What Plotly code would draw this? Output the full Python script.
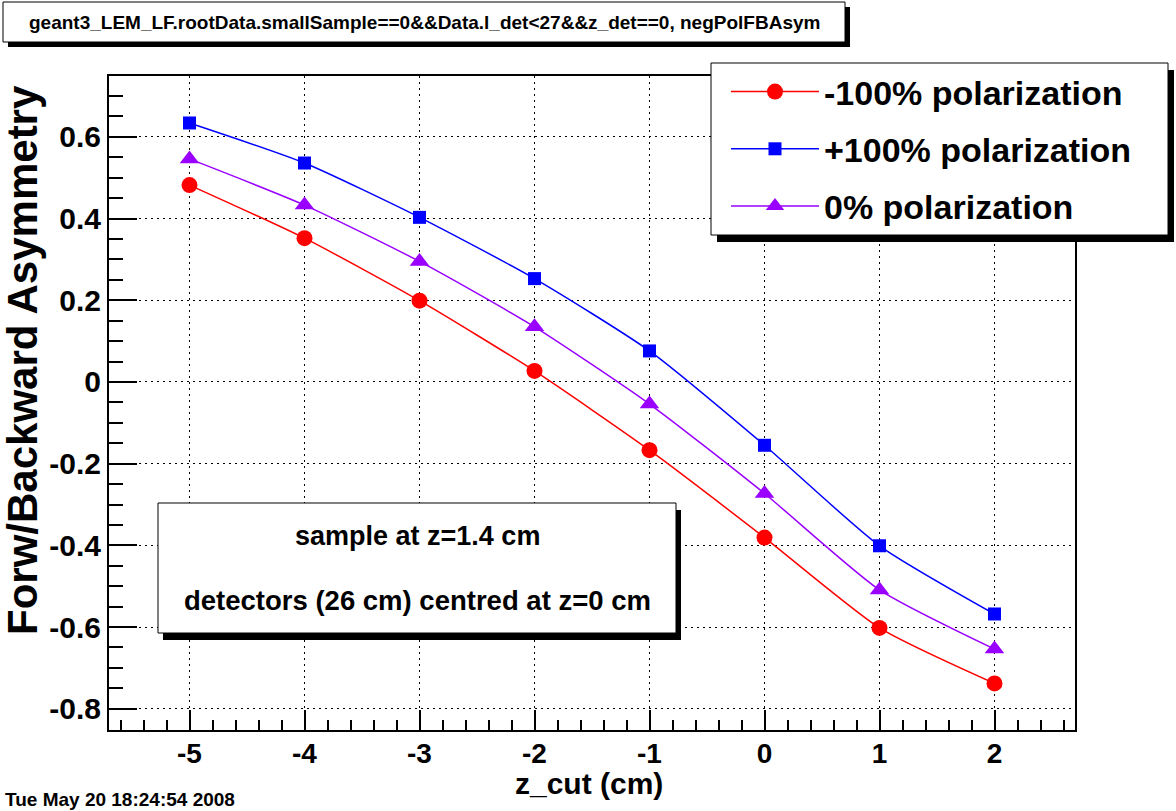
import plotly.graph_objects as go

# ---- data ----
z_cut = [-5, -4, -3, -2, -1, 0, 1, 2]
asym_neg100 = [0.482, 0.352, 0.199, 0.027, -0.167, -0.381, -0.602, -0.738]
asym_pos100 = [0.634, 0.536, 0.403, 0.253, 0.076, -0.155, -0.401, -0.568]
asym_zero = [0.546, 0.433, 0.295, 0.135, -0.054, -0.273, -0.509, -0.654]
series_names = ["-100% polarization", "+100% polarization", "0% polarization"]

x_tickvals = [-5, -4, -3, -2, -1, 0, 1, 2]
x_ticktext = ["-5", "-4", "-3", "-2", "-1", "0", "1", "2"]
y_tickvals = [-0.8, -0.6, -0.4, -0.2, 0, 0.2, 0.4, 0.6]
y_ticktext = ["-0.8", "-0.6", "-0.4", "-0.2", "0", "0.2", "0.4", "0.6"]

title_text = "geant3_LEM_LF.rootData.smallSample==0&&Data.l_det<27&&z_det==0, negPolFBAsym"
x_title = "z_cut (cm)"
y_title = "Forw/Backward Asymmetry"
note_lines = ["sample at z=1.4 cm", "detectors (26 cm) centred at z=0 cm"]
date_text = "Tue May 20 18:24:54 2008"

# ---- layout geometry (pixels) ----
W, H = 1176, 811
L, R, T, B = 109, 1075, 76, 730
PW, PH = R - L, B - T


def px(x):
    return (x - L) / PW


def py(y):
    return (B - y) / PH


FONT = "Liberation Sans"

fig = go.Figure()
styles = [
    dict(color="#ff0000", symbol="circle", size=16),
    dict(color="#0000ff", symbol="square", size=13),
    dict(color="#9900ff", symbol="triangle-up", size=17),
]
for name, ys, st in zip(series_names, [asym_neg100, asym_pos100, asym_zero], styles):
    fig.add_trace(go.Scatter(
        x=z_cut, y=ys, name=name, mode="lines+markers",
        line=dict(color=st["color"], width=1.5, shape="spline", smoothing=0.6),
        marker=dict(color=st["color"], symbol=st["symbol"], size=st["size"]),
        legendgroup=name,
    ))

axis_common = dict(
    showline=True, linecolor="black", linewidth=2, mirror=True,
    ticks="inside", tickcolor="black", tickwidth=1.5,
    showgrid=True, gridcolor="black", gridwidth=1, griddash="2px,4px",
    zeroline=False,
)

fig.update_xaxes(
    range=[-5.7, 2.7], tickvals=x_tickvals, ticktext=x_ticktext, ticklen=20,
    tickfont=dict(family=FONT, size=28, color="black", weight="bold"),
    ticklabelstandoff=-3,
    minor=dict(ticks="inside", ticklen=10, dtick=0.2, tick0=0, tickcolor="black", tickwidth=1.5, showgrid=False),
    **axis_common,
)
fig.update_yaxes(
    range=[-0.852, 0.749], tickvals=y_tickvals, ticktext=y_ticktext, ticklen=28,
    tickfont=dict(family=FONT, size=30, color="black", weight="bold"),
    minor=dict(ticks="inside", ticklen=14, dtick=0.05, tick0=0, tickcolor="black", tickwidth=1.5, showgrid=False),
    **axis_common,
)

shapes = []


def boxed(x0, y0, x1, y1, dx, dy):
    # shadow
    shapes.append(dict(type="rect", xref="paper", yref="paper", layer="above",
                       x0=px(x0 + dx), x1=px(x1 + dx), y0=py(y0 + dy), y1=py(y1 + dy),
                       fillcolor="black", line=dict(width=0)))
    shapes.append(dict(type="rect", xref="paper", yref="paper", layer="above",
                       x0=px(x0), x1=px(x1), y0=py(y0), y1=py(y1),
                       fillcolor="white", line=dict(color="black", width=1)))


boxed(3, 2, 845, 42, 5, 5)          # title box
boxed(711, 63, 1168, 235, 6, 7)     # legend box
boxed(158, 503, 676, 633, 5, 7)     # note box

annotations = [
    dict(text=title_text, x=px(27), y=py(22), xanchor="left", yanchor="middle",
         font=dict(family=FONT, size=19, color="black", weight="bold")),
    dict(text=note_lines[0], x=px(417), y=py(536), xanchor="center", yanchor="middle",
         font=dict(family=FONT, size=27, color="black", weight="bold")),
    dict(text=note_lines[1], x=px(417), y=py(600), xanchor="center", yanchor="middle",
         font=dict(family=FONT, size=27.5, color="black", weight="bold")),
    dict(text=x_title, x=px(589), y=py(783), xanchor="center", yanchor="middle",
         font=dict(family=FONT, size=30, color="black", weight="bold")),
    dict(text=y_title, x=px(22), y=py(360), xanchor="center", yanchor="middle", textangle=-90,
         font=dict(family=FONT, size=42, color="black", weight="bold")),
    dict(text=date_text, x=px(3), y=py(799), xanchor="left", yanchor="middle",
         font=dict(family=FONT, size=19, color="black", weight="bold")),
]
for a in annotations:
    a.update(xref="paper", yref="paper", showarrow=False)

fig.update_layout(
    width=W, height=H,
    margin=dict(l=L, r=W - R, t=T, b=H - B, pad=0),
    paper_bgcolor="white", plot_bgcolor="white",
    shapes=shapes, annotations=annotations,
    showlegend=True,
    legend=dict(
        x=px(726), y=py(63), xanchor="left", yanchor="top",
        bgcolor="rgba(0,0,0,0)", borderwidth=0,
        font=dict(family=FONT, size=34, color="black", weight="bold"),
        tracegroupgap=10, itemwidth=88,
    ),
)

fig.write_html("out.html", config={"displayModeBar": False},
               post_script="document.body.style.margin='0';")
